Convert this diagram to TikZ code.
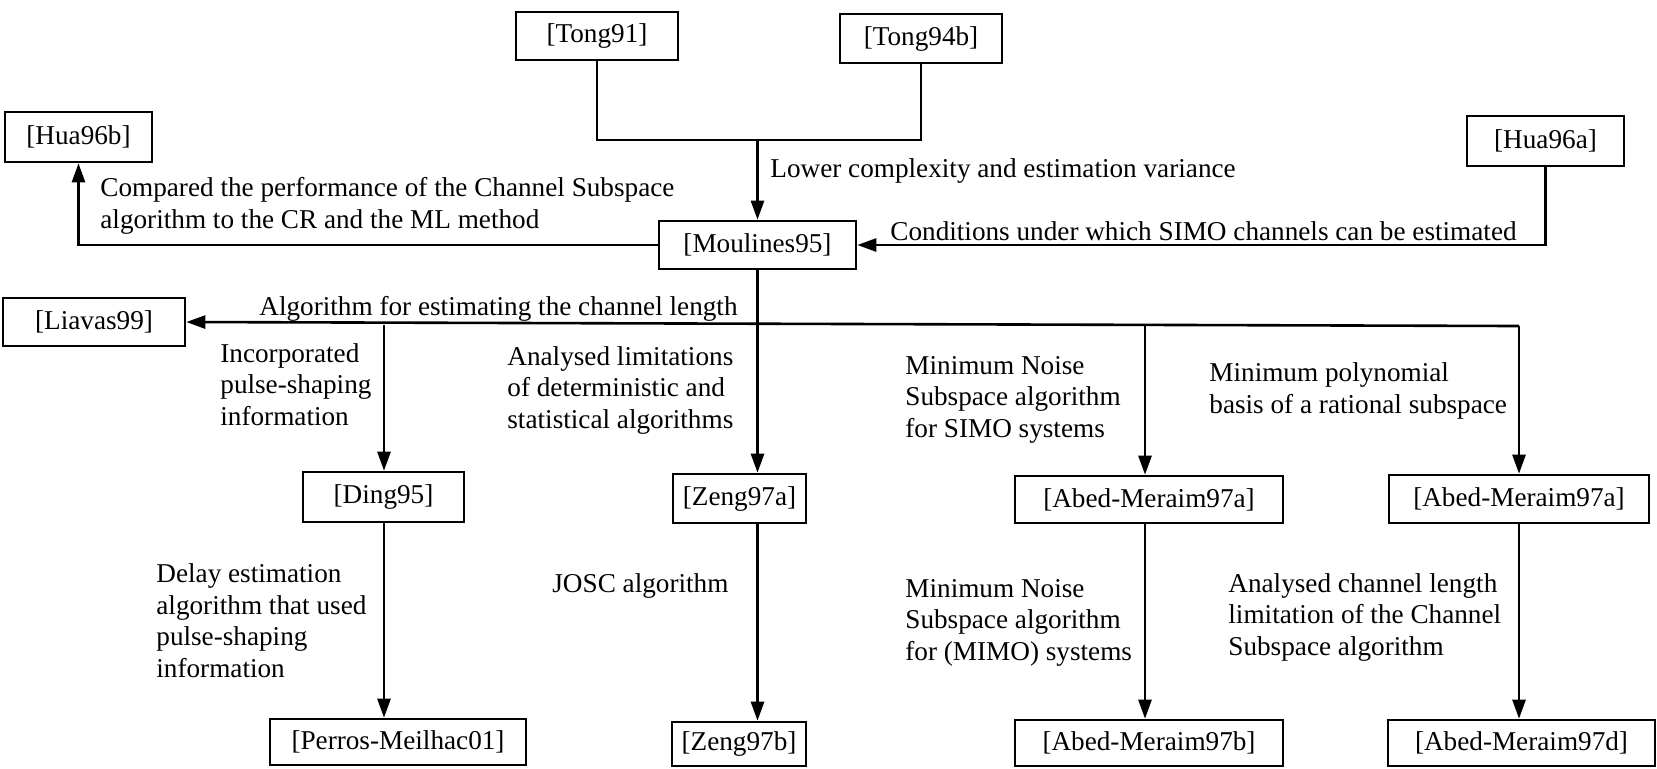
\documentclass[tikz,border=0pt]{standalone}
\usepackage{fontspec}
\setmainfont{Liberation Serif}
\usetikzlibrary{arrows.meta}
\begin{document}
\begin{tikzpicture}[x=0.5pt,y=-0.5pt,
  txt/.style={font=\fontsize{13.6pt}{15.75pt}\selectfont},
  box/.style={draw, line width=1.3pt, inner sep=0pt, txt},
  lbl/.style={anchor=base west, align=left, inner sep=0pt, txt},
  conn/.style={line width=1.3pt},
  arr/.style={conn, -{Triangle[length=9.5pt,width=6.5pt]}}]
\useasboundingbox (0,0) rectangle (1657,768);
% boxes
\node[box, minimum width=81pt, minimum height=24pt] (tong91) at (597,36) {[Tong91]};
\node[box, minimum width=81pt, minimum height=24.5pt] (tong94b) at (921,38.5) {[Tong94b]};
\node[box, minimum width=73.5pt, minimum height=25pt] (hua96b) at (78.5,137) {[Hua96b]};
\node[box, minimum width=78.5pt, minimum height=25pt] (hua96a) at (1545.5,141) {[Hua96a]};
\node[box, minimum width=98.5pt, minimum height=24pt] (moul) at (757.5,245) {[Moulines95]};
\node[box, minimum width=91pt, minimum height=24pt] (liavas) at (94,322) {[Liavas99]};
\node[box, minimum width=80.5pt, minimum height=25pt] (ding) at (383.5,497) {[Ding95]};
\node[box, minimum width=66.5pt, minimum height=24.5pt] (zenga) at (739.5,498.5) {[Zeng97a]};
\node[box, minimum width=134pt, minimum height=23.5pt] (abeda1) at (1149,499.5) {[Abed-Meraim97a]};
\node[box, minimum width=130pt, minimum height=24pt] (abeda2) at (1519,499) {[Abed-Meraim97a]};
\node[box, minimum width=128pt, minimum height=23pt] (perros) at (398,742) {[Perros-Meilhac01]};
\node[box, minimum width=67pt, minimum height=22pt] (zengb) at (739,744) {[Zeng97b]};
\node[box, minimum width=134pt, minimum height=23pt] (abedb) at (1149,743) {[Abed-Meraim97b]};
\node[box, minimum width=133.5pt, minimum height=23pt] (abedd) at (1521.5,743) {[Abed-Meraim97d]};
% junction coordinates
\coordinate (tj) at (757.5,140);
\coordinate (bR) at (1519,326);
\coordinate (bD) at (384,325);
\coordinate (bA) at (1145,326);
\coordinate (cD) at (384,522);
\coordinate (cZ) at (757.5,523);
\coordinate (cA) at (1145,523);
\coordinate (cA2) at (1519,523);
% connectors
\draw[conn] (tong91.south) |- (tj) -| (tong94b.south);
\draw[arr] (tj) -- (tj |- moul.north);
\draw[arr] (moul.west) -| (hua96b.south);
\draw[arr] (hua96a.south) |- (moul.east);
\draw[arr] (moul.south) -- (moul.south |- zenga.north);
\draw[arr] (bR) -- (liavas.east);
\draw[arr] (bR) -- (bR |- abeda2.north);
\draw[arr] (bD) -- (bD |- ding.north);
\draw[arr] (bA) -- (bA |- abeda1.north);
\draw[arr] (cD) -- (cD |- perros.north);
\draw[arr] (cZ) -- (cZ |- zengb.north);
\draw[arr] (cA) -- (cA |- abedb.north);
\draw[arr] (cA2) -- (cA2 |- abedd.north);
% labels (base = baseline of the last line)
\node[lbl] (t1) at (770,177) {Lower complexity and estimation variance};
\node[lbl] (t2) at (100,228) {Compared the performance of the Channel Subspace\\algorithm to the CR and the ML method};
\node[lbl] (t3) at (890,240) {Conditions under which SIMO channels can be estimated};
\node[lbl] (t4) at (259,315) {Algorithm for estimating the channel length};
\node[lbl] (t5) at (220,425) {Incorporated\\pulse-shaping\\information};
\node[lbl] (t6) at (507,428) {Analysed limitations\\of deterministic and\\statistical algorithms};
\node[lbl] (t7) at (905,437) {Minimum Noise\\Subspace algorithm\\for SIMO systems};
\node[lbl] (t8) at (1209,413) {Minimum polynomial\\basis of a rational subspace};
\node[lbl] (t9) at (156,677) {Delay estimation\\algorithm that used\\pulse-shaping\\information};
\node[lbl] (t10) at (552,592) {JOSC algorithm};
\node[lbl] (t11) at (905,660) {Minimum Noise\\Subspace algorithm\\for (MIMO) systems};
\node[lbl] (t12) at (1228,655) {Analysed channel length\\limitation of the Channel\\Subspace algorithm};
\end{tikzpicture}
\end{document}
